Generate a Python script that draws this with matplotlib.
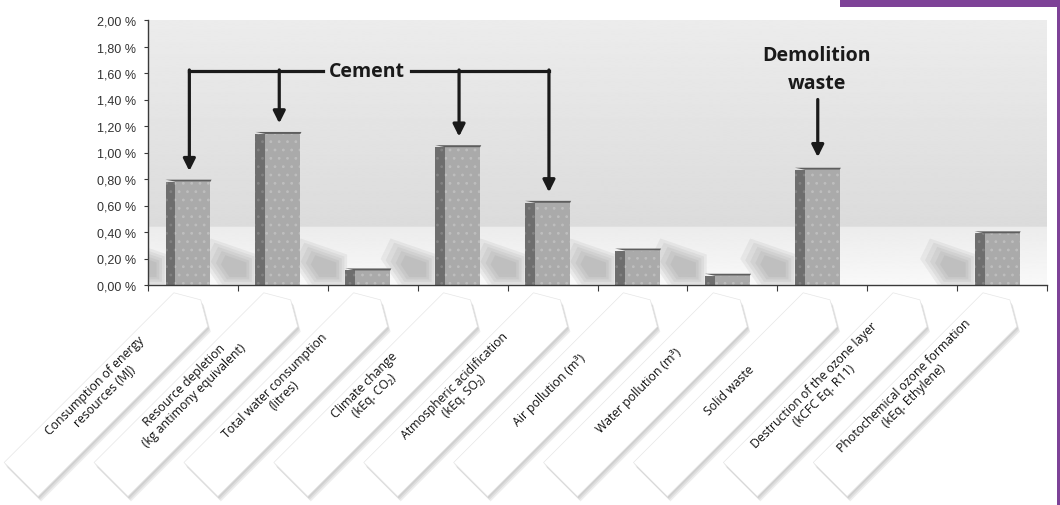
import matplotlib.pyplot as plt
import numpy as np
from matplotlib.patches import Polygon, Rectangle
from matplotlib.ticker import FuncFormatter
from matplotlib.transforms import Affine2D, ScaledTranslation

# Data (share of total impact, %)
categories = [
    "Consumption of energy\nresources (MJ)",
    "Resource depletion\n(kg antimony equivalent)",
    "Total water consumption\n(litres)",
    "Climate change\n(kEq. CO\u2082)",
    "Atmospheric acidification\n(kEq. SO\u2082)",
    "Air pollution (m\u00b3)",
    "Water pollution (m\u00b3)",
    "Solid waste",
    "Destruction of the ozone layer\n(kCFC Eq. R11)",
    "Photochemical ozone formation\n(kEq. Ethylene)",
]
values = [0.78, 1.14, 0.11, 1.04, 0.62, 0.26, 0.07, 0.87, 0.0, 0.39]
cement_idx = [0, 1, 3, 4]
demolition_idx = [7]
yticks = np.arange(0, 2.01, 0.2)

purple = "#7e4297"
font_tag = ["Open Sans", "DejaVu Sans"]

fig = plt.figure(figsize=(10.6, 5.06), dpi=100)
fig.patch.set_facecolor("white")
ax = fig.add_axes([148 / 1060, 1 - 286 / 506, 899 / 1060, 265 / 506])
ax.set_xlim(-0.5, len(values) - 0.5)
ax.set_ylim(0, 2.0)
x = np.arange(len(values))

# background: wall + floor gradient
yy = np.linspace(0, 1, 400)
hz = 0.437 / 2.0
floor = 0.975 - (yy / hz) * 0.05
wall = 0.86 + (yy - hz) / (1 - hz) * 0.065
shade = np.where(yy < hz, floor, wall)
ax.imshow(shade[:, None], cmap="gray", vmin=0, vmax=1, extent=(0, 1, 0, 1),
          transform=ax.transAxes, origin="lower", aspect="auto", zorder=0.5,
          interpolation="bilinear")

# bars: front face, side face, top
w = 0.39
sw = 0.11
shadow = np.array([(0.0, 0.0), (0.0, 0.22), (-0.47, 0.33), (-0.57, 0.19), (-0.38, 0.0)])
centre = np.array([-0.2, 0.12])
for i, v in enumerate(values):
    if v <= 0:
        continue
    xl = i - w / 2 - sw
    # soft shadow cast back-left of the bar
    for s in [1.1, 0.95, 0.8, 0.65, 0.5]:
        pts = centre + (shadow - centre) * s + [xl, 0]
        ax.add_patch(Polygon(pts, closed=True, facecolor="#6e6e6e", alpha=0.09,
                             lw=0, zorder=0.6))
    top = [(xl, v + 0.015), (i + w / 2 + 0.012, v + 0.015), (i + w / 2, v), (i - w / 2, v)]
    ax.add_patch(Polygon(top, closed=True, facecolor="#5e5e5e", lw=0, zorder=2))

plt.rcParams["hatch.linewidth"] = 0.8
ax.bar(x - w / 2 - sw / 2, values, width=sw, color="#6e6e6e", lw=0, zorder=1.8)
ax.bar(x - w / 2 - sw / 2, values, width=sw, facecolor="none", edgecolor="#838383",
       hatch="..", lw=0, zorder=1.85)
ax.bar(x, values, width=w, color="#aaaaaa", lw=0, zorder=1.9)
ax.bar(x, values, width=w, facecolor="none", edgecolor="#bebebe", hatch="..",
       lw=0, zorder=1.95)

# axes styling
for s in ["top", "right"]:
    ax.spines[s].set_visible(False)
for s in ["left", "bottom"]:
    ax.spines[s].set_color("#3a3a3a")
    ax.spines[s].set_linewidth(1.0)
ax.set_yticks(yticks)
ax.yaxis.set_major_formatter(FuncFormatter(lambda v, p: f"{v:.2f} %".replace(".", ",")))
ax.set_xticks(np.arange(-0.5, len(values)))
ax.set_xticklabels([])
ax.tick_params(axis="y", length=3, width=0.8, color="#3a3a3a", pad=5.5,
               labelsize=9, labelcolor="#333333")
ax.tick_params(axis="x", length=4, width=0.8, color="#3a3a3a")
for t in ax.get_yticklabels():
    t.set_fontfamily("Liberation Sans")

# slanted label tags below the axis
dpi = fig.dpi
tag = [(-259, -40), (-19, -40), (-5, -16), (-19, 8), (-259, 8)]
for i, lab in enumerate(categories):
    base = ScaledTranslation(i, 0, ax.get_xaxis_transform())
    for ox, oy in [(3, -5), (2, -3.5), (1, -2)]:
        tr = Affine2D().rotate_deg(45).translate(ox, oy).scale(1 / dpi) + fig.dpi_scale_trans + base
        ax.add_patch(Polygon(tag, closed=True, transform=tr, facecolor="#707070",
                             alpha=0.12, lw=0, clip_on=False, zorder=0.1 + i * 0.03))
    tr = Affine2D().rotate_deg(45).scale(1 / dpi) + fig.dpi_scale_trans + base
    ax.add_patch(Polygon(tag, closed=True, transform=tr, facecolor="white",
                         edgecolor="#e6e6e6", lw=0.5, clip_on=False,
                         zorder=0.12 + i * 0.03))
    ax.text(-140, -8, lab, transform=tr, rotation=45, rotation_mode="anchor",
            ha="center", va="center", multialignment="center", fontsize=8.8,
            family=font_tag, color="#111111", linespacing=1.1, zorder=0.13 + i * 0.03)

# annotations
ink = "#1a1a1a"
br_y = 1.615
arrow_x = [i - 0.04 for i in cement_idx]
gap_l, gap_r = 1.45, 2.42
ax.plot([arrow_x[0], gap_l], [br_y, br_y], color=ink, lw=2.3, solid_capstyle="projecting", zorder=5)
ax.plot([gap_r, arrow_x[-1]], [br_y, br_y], color=ink, lw=2.3, solid_capstyle="projecting", zorder=5)
ax.text((gap_l + gap_r) / 2, br_y, "Cement", ha="center", va="center", fontsize=14,
        fontweight="bold", family=font_tag, color=ink, zorder=5)
for xi, i in zip(arrow_x, cement_idx):
    ax.annotate("", xy=(xi, values[i] + 0.08), xytext=(xi, br_y + 0.008),
                arrowprops=dict(arrowstyle="-|>", lw=2.3, color=ink, mutation_scale=18,
                                shrinkA=0, shrinkB=0), zorder=5)
for i in demolition_idx:
    ax.text(i - 0.06, 1.63, "Demolition\nwaste", ha="center", va="center", fontsize=14,
            fontweight="bold", family=font_tag, color=ink, linespacing=1.5, zorder=5)
    ax.annotate("", xy=(i - 0.05, values[i] + 0.095), xytext=(i - 0.05, 1.40),
                arrowprops=dict(arrowstyle="-|>", lw=2.3, color=ink, mutation_scale=18,
                                shrinkA=0, shrinkB=0), zorder=5)

# purple frame accents
fig.patches.append(Rectangle((840 / 1060, 1 - 8 / 506), 220 / 1060, 8 / 506,
                             transform=fig.transFigure, facecolor=purple, lw=0))
fig.patches.append(Rectangle((1057 / 1060, 0), 3 / 1060, 1, transform=fig.transFigure,
                             facecolor=purple, lw=0))

fig.savefig("out.png", dpi=100)
